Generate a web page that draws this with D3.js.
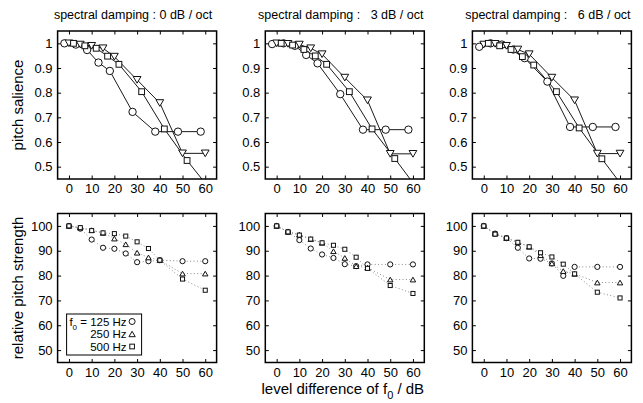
<!DOCTYPE html>
<html>
<head>
<meta charset="utf-8">
<script src="https://cdn.jsdelivr.net/npm/d3@7"></script>
<style>
  body { margin: 0; background: #fff; }
  text { font-family: Arial, "Liberation Sans", sans-serif; }
</style>
</head>
<body>
<svg id="fig" width="643" height="403"></svg>
<script>
// ---- data ----
const titles = ["spectral damping : 0 dB / oct", "spectral damping :   3 dB / oct", "spectral damping :   6 dB / oct"];
const f0Labels = ["125 Hz", "250 Hz", "500 Hz"];
const xTicks = [0, 10, 20, 30, 40, 50, 60];
const salienceTicks = [0.5, 0.6, 0.7, 0.8, 0.9, 1];
const strengthTicks = [50, 60, 70, 80, 90, 100];

const levelsTop = [0, 5, 10, 15, 20, 30, 40, 50, 60];
const levelsBottom = [0, 5, 10, 15, 20, 25, 30, 35, 40, 50, 60];

// pitch salience, one row per spectral damping (0, 3, 6 dB/oct)
const salience125 = [
    [1.0, 0.995, 0.973, 0.922, 0.888, 0.722, 0.642, 0.642, 0.642],
    [0.997, 1.0, 0.99, 0.953, 0.919, 0.794, 0.650, 0.650, 0.650],
    [0.986, 1.0, 0.995, 0.975, 0.94, 0.845, 0.661, 0.661, 0.661]
];
const salience250 = [
    [1.0, 0.995, 0.99, 0.98, 0.946, 0.852, 0.758, 0.554, 0.554],
    [1.0, 0.998, 0.995, 0.98, 0.956, 0.861, 0.769, 0.552, 0.552],
    [0.995, 0.998, 0.99, 0.975, 0.956, 0.861, 0.769, 0.553, 0.553]
];
const salience500 = [
    [1.0, 0.99, 0.98, 0.948, 0.915, 0.804, 0.653, 0.525, 0.41],
    [1.0, 0.993, 0.975, 0.949, 0.915, 0.804, 0.653, 0.533, 0.41],
    [1.0, 0.99, 0.975, 0.946, 0.912, 0.804, 0.657, 0.532, 0.41]
];

// relative pitch strength (%)
const strength125 = [
    [100, 98.9, 94.5, 91.2, 90.8, 88.9, 85.4, 85.8, 86.2, 85.8, 85.8],
    [100, 97.6, 94.3, 90.9, 88.5, 87.1, 84.6, 83.8, 84.5, 84.5, 84.5],
    [100, 96.9, 95.1, 91.2, 86.9, 86.8, 84.9, 79.9, 83.5, 83.5, 83.5]
];
const strength250 = [
    [100, 99.3, 98.3, 97.2, 94.9, 92.6, 89.2, 87.3, 86.2, 80.8, 80.8],
    [100, 97.6, 96.5, 94.7, 93.2, 89.8, 87.1, 83.8, 83.2, 78.4, 78.4],
    [100, 96.9, 95.1, 93.4, 91.6, 88.2, 84.9, 81.8, 80.7, 77.2, 77.2]
];
const strength500 = [
    [100, 99.3, 98.1, 97.2, 96.9, 95.9, 93.6, 90.9, 86.2, 78.6, 74.1],
    [100, 97.6, 96.3, 94.7, 93.2, 92.2, 90.6, 87.4, 82.9, 76.0, 72.8],
    [100, 96.7, 95.1, 93.4, 91.6, 89.2, 87.5, 84.6, 80.7, 73.3, 71.0]
];

// ---- layout ----
const svg = d3.select("#fig");
const colLeft = [57.6, 265.3, 472.4];
const panelW = 159;
const rowTop = [31, 213.5];
const rowH = [148, 149];

// in the upper row the three f0 curves are shifted a little along x
const shiftTop = [-2, 0, 2];
const markerTop = ["circle", "triangleDown", "square"];
const markerBottom = ["circle", "triangleUp", "square"];

function drawMarker(g, type, cx, cy, s) {
    if (type === "circle") {
        g.append("circle").attr("cx", cx).attr("cy", cy).attr("r", s / 2);
    } else if (type === "square") {
        const a = s * 0.78;
        g.append("rect").attr("x", cx - a / 2).attr("y", cy - a / 2).attr("width", a).attr("height", a);
    } else {
        const w = s * 1.05, h = s * 0.9;
        const d = type === "triangleUp"
            ? `M${cx},${cy - h / 2}L${cx + w / 2},${cy + h / 2}L${cx - w / 2},${cy + h / 2}Z`
            : `M${cx},${cy + h / 2}L${cx + w / 2},${cy - h / 2}L${cx - w / 2},${cy - h / 2}Z`;
        g.append("path").attr("d", d);
    }
}

function panel(row, col) {
    const h = rowH[row];
    const g = svg.append("g").attr("transform", `translate(${colLeft[col]},${rowTop[row]})`);
    const x = d3.scaleLinear().domain([-5, 65]).range([0, panelW]);
    const y = row === 0
        ? d3.scaleLinear().domain([0.45, 1.05]).range([h, 0])
        : d3.scaleLinear().domain([45, 105]).range([h, 0]);
    const yTicks = row === 0 ? salienceTicks : strengthTicks;

    const clipId = `clip${row}${col}`;
    g.append("clipPath").attr("id", clipId)
        .append("rect").attr("width", panelW).attr("height", h);

    const axisStyle = a => a.attr("font-size", 13)
        .attr("font-family", "Arial, 'Liberation Sans', sans-serif")
        .call(s => s.select(".domain").remove());

    g.append("g").attr("transform", `translate(0,${h})`)
        .call(d3.axisBottom(x).tickValues(xTicks).tickSize(-3.5).tickPadding(5).tickFormat(d3.format("d")))
        .call(axisStyle);
    g.append("g")
        .call(d3.axisTop(x).tickValues(xTicks).tickSize(-3.5).tickFormat(""))
        .call(axisStyle);
    g.append("g")
        .call(d3.axisLeft(y).tickValues(yTicks).tickSize(-3.5).tickPadding(5).tickFormat(d3.format("~g")))
        .call(axisStyle);
    g.append("g").attr("transform", `translate(${panelW},0)`)
        .call(d3.axisRight(y).tickValues(yTicks).tickSize(-3.5).tickFormat(""))
        .call(axisStyle);

    const plot = g.append("g").attr("clip-path", `url(#${clipId})`);
    const series = row === 0
        ? [salience125[col], salience250[col], salience500[col]]
        : [strength125[col], strength250[col], strength500[col]];
    const levels = row === 0 ? levelsTop : levelsBottom;

    series.forEach((vals, i) => {
        const dx = row === 0 ? shiftTop[i] : 0;
        const pts = vals.map((v, k) => [x(levels[k] + dx), y(v)]);
        const line = plot.append("path")
            .attr("d", d3.line()(pts))
            .attr("fill", "none");
        if (row === 0) {
            line.attr("stroke", "#1a1a1a").attr("stroke-width", 1);
        } else {
            line.attr("stroke", "#8a8a8a").attr("stroke-width", 1).attr("stroke-dasharray", "1,2.4");
        }
    });
    series.forEach((vals, i) => {
        const dx = row === 0 ? shiftTop[i] : 0;
        const mg = plot.append("g").attr("fill", "#fff").attr("stroke", "#111").attr("stroke-width", 1);
        vals.forEach((v, k) => {
            const type = row === 0 ? markerTop[i] : markerBottom[i];
            const size = row === 0 ? 7.4 : 5.2;
            drawMarker(mg, type, x(levels[k] + dx), y(v), size);
        });
    });

    g.append("rect").attr("width", panelW).attr("height", h)
        .attr("fill", "none").attr("stroke", "#000").attr("stroke-width", 1.5);

    if (row === 0) {
        svg.append("text")
            .attr("x", colLeft[col] + panelW / 2 - 4)
            .attr("y", 19)
            .attr("text-anchor", "middle")
            .attr("font-size", 12.5)
            .style("white-space", "pre")
            .text(titles[col]);
    }
    return {g, x, y, h};
}

const panels = [];
for (let r = 0; r < 2; r++) {
    for (let c = 0; c < 3; c++) panels.push(panel(r, c));
}

// legend in the lower-left panel
const lp = panels[3];
const leg = lp.g.append("g").attr("transform", `translate(9,${lp.h - 48.5})`);
leg.append("rect").attr("width", 75).attr("height", 41)
    .attr("fill", "#fff").attr("stroke", "#000").attr("stroke-width", 1);
f0Labels.forEach((lab, i) => {
    const cy = 7.5 + i * 12.5;
    const t = leg.append("text")
        .attr("x", 60).attr("y", cy)
        .attr("dy", "0.35em")
        .attr("text-anchor", "end")
        .attr("font-size", 11.5);
    if (i === 0) {
        t.append("tspan").text("f");
        t.append("tspan").attr("dy", 4).attr("font-size", 8).text("0");
        t.append("tspan").attr("dy", -4).text(" = " + lab);
    } else {
        t.text(lab);
    }
    const mg = leg.append("g").attr("fill", "#fff").attr("stroke", "#111").attr("stroke-width", 1);
    drawMarker(mg, markerBottom[i], 65.5, cy, 6);
});

// axis labels
svg.append("text")
    .attr("transform", `translate(23,${rowTop[0] + rowH[0] / 2}) rotate(-90)`)
    .attr("text-anchor", "middle").attr("font-size", 15)
    .text("pitch salience");
svg.append("text")
    .attr("transform", `translate(23,${rowTop[1] + rowH[1] / 2}) rotate(-90)`)
    .attr("text-anchor", "middle").attr("font-size", 15)
    .text("relative pitch strength");
const xl = svg.append("text")
    .attr("x", colLeft[1] + panelW / 2 - 2)
    .attr("y", 394)
    .attr("text-anchor", "middle").attr("font-size", 15);
xl.append("tspan").text("level difference of f");
xl.append("tspan").attr("dy", 5).attr("font-size", 11).text("0");
xl.append("tspan").attr("dy", -5).text(" / dB");
</script>
</body>
</html>
